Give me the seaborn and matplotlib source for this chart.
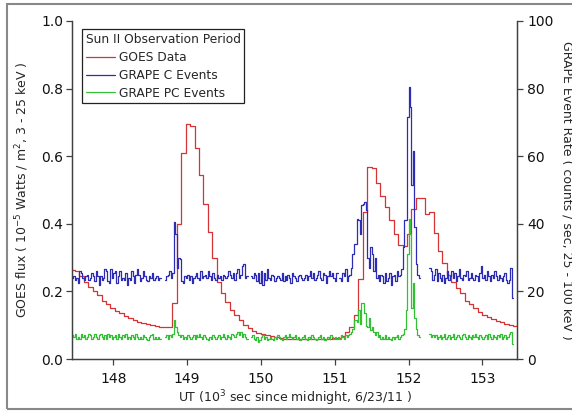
import numpy as np
import pandas as pd
import matplotlib
matplotlib.use("Agg")
import matplotlib.pyplot as plt
import seaborn as sns
from matplotlib.lines import Line2D
from matplotlib.patches import Rectangle

nan = np.nan

# GOES flux, 1 min bins, first bin edge at 147.42 ks (units 1e-5 W/m^2)
goes_t0, goes_dt = 147.42, 0.06
goes_flux = [
    0.262, 0.259, 0.245, 0.228, 0.214, 0.200, 0.188, 0.173, 0.162, 0.151,
    0.143, 0.135, 0.127, 0.120, 0.114, 0.110, 0.106, 0.103, 0.100, 0.098,
    0.096, 0.095, 0.094, 0.165, 0.400, 0.610, 0.695, 0.690, 0.625, 0.545,
    0.460, 0.376, 0.300, 0.228, 0.195, 0.170, 0.145, 0.130, 0.115, 0.100,
    0.092, 0.083, 0.077, 0.073, 0.070, 0.067, 0.065, 0.062, 0.060, 0.060,
    0.059, 0.058, 0.058, 0.058, 0.058, 0.058, 0.059, 0.059, 0.060, 0.061,
    0.063, 0.068, 0.080, 0.095, 0.130, 0.236, 0.435, 0.568, 0.565, 0.520,
    0.483, 0.450, 0.410, 0.370, 0.337, 0.335, 0.370, 0.445, 0.475, 0.475,
    0.430, 0.435, 0.372, 0.320, 0.283, 0.250, 0.228, 0.210, 0.195, 0.172,
    0.163, 0.152, 0.140, 0.130, 0.123, 0.118, 0.113, 0.108, 0.104, 0.101,
    0.099,
]

# GRAPE rates, 20 s bins, first bin edge at 147.44 ks (counts/sec)
grape_t0, grape_dt = 147.44, 0.02
grape_c = [
    24.0, 24.5, 23.5, 24.0, 22.5, 26.0, 25.5, 24.0, 23.5, 24.5, 25.0, 23.5, 24.0, 25.5, 24.5,
    23.0, 26.0, 24.5, 22.0, 24.5, 23.5, 24.0, 26.5, 26.0, 23.0, 22.5, 26.5, 24.0, 25.5, 26.0,
    22.5, 24.5, 26.0, 23.5, 24.0, 23.5, 25.5, 22.0, 24.0, 23.5, 26.0, 24.5, 22.5, 25.0, 26.5,
    25.0, 23.0, 24.0, 26.0, 24.5, 23.5, 23.0, 24.5, 24.0, 25.5, 23.5, 24.0, 24.5, 23.5, 24.0,
    nan, nan, nan, 23.5, 24.5, 25.0, 26.0, 24.0, 25.5, 40.5, 37.0, 27.0, 30.0, 29.5, 23.0,
    22.5, 24.5, 24.0, 25.0, 23.5, 24.5, 22.5, 24.0, 24.5, 25.5, 24.0, 23.5, 26.0, 24.0, 24.5,
    25.0, 24.0, 26.0, 24.5, 23.5, 25.5, 24.0, 23.5, 25.0, 24.0, 24.5, 23.5, 25.0, 24.5, 24.0,
    24.5, 26.0, 25.0, 24.0, 25.5, 23.5, 25.5, 26.5, 24.0, 25.0, 27.5, 28.0, 24.0, 24.5, nan,
    nan, 24.5, 24.0, 25.5, 25.0, 23.0, 25.5, 22.5, 26.0, 22.0, 25.5, 23.5, 26.5, 24.0, 23.5,
    25.0, 24.5, 23.0, 24.0, 24.5, 24.0, 23.5, 25.5, 23.0, 24.5, 23.5, 25.0, 24.0, 22.5, 25.5,
    24.5, 24.0, 23.0, 24.5, 25.0, 24.0, 23.5, 24.0, 25.0, 23.5, 24.5, 26.0, 24.0, 25.5, 23.5,
    24.0, 25.0, 26.0, 24.0, 23.5, 25.5, 25.0, 22.5, 24.5, 26.0, 24.5, 25.5, 24.0, 23.0, 25.5,
    nan, 24.0, 23.0, 25.5, 24.5, 26.5, 23.0, 24.5, 25.0, 27.0, 31.0, 34.0, 34.0, 41.5, 41.0,
    37.0, 45.5, 46.0, 46.5, 44.0, 30.0, 27.0, 33.0, 31.0, 26.0, 30.0, 24.0, 25.0, 23.0, 25.0,
    24.5, 22.5, 25.5, 23.0, 24.0, 25.5, 22.0, 24.5, 25.0, 23.0, 26.0, 24.5, 25.0, 26.5, 33.0,
    41.0, 41.0, 71.5, 80.5, 74.5, 51.5, 61.5, 39.0, 28.0, 25.0, 24.0, nan, nan, nan, nan,
    nan, nan, 27.0, 26.0, 23.5, 25.0, 26.5, 23.0, 25.5, 24.0, 23.0, 25.0, 22.5, 24.0, 26.0,
    23.5, 24.5, 26.0, 24.0, 25.5, 23.0, 24.5, 26.5, 24.0, 23.5, 25.0, 24.5, 26.0, 23.5, 24.0,
    25.5, 24.0, 23.5, 25.0, 24.5, 23.0, 25.5, 27.5, 24.0, 25.0, 23.5, 26.0, 24.5, 23.0, 25.0,
    24.0, 26.0, 24.5, 23.5, 25.0, 24.0, 23.0, 24.5, 25.5, 23.5, 22.5, 23.5, 27.0, 18.0,
]
grape_pc = [
    7.0, 6.5, 7.5, 6.0, 6.5, 6.0, 7.5, 6.5, 7.0, 6.0, 6.5, 7.5, 7.0, 6.0, 6.5,
    7.5, 6.5, 6.0, 7.0, 7.5, 6.5, 6.0, 7.0, 6.0, 7.5, 6.5, 7.0, 6.0, 6.5, 7.0,
    6.0, 7.5, 6.5, 6.0, 7.0, 6.5, 7.5, 6.0, 6.5, 6.0, 7.0, 6.5, 6.0, 7.5, 6.5,
    6.0, 6.5, 6.0, 7.0, 6.5, 6.0, 5.5, 6.5, 7.0, 7.5, 6.0, 6.5, 6.0, 6.5, 6.0,
    nan, nan, nan, 6.5, 7.0, 6.0, 7.0, 6.5, 7.5, 11.5, 9.5, 8.0, 7.0, 6.5, 7.0,
    6.0, 6.5, 6.0, 7.0, 6.5, 6.0, 6.5, 7.0, 6.0, 7.0, 6.5, 7.5, 6.5, 6.0, 7.0,
    6.5, 6.0, 5.5, 6.5, 6.0, 7.0, 6.5, 6.0, 6.5, 7.0, 6.0, 6.5, 7.5, 6.5, 6.0,
    7.0, 6.5, 6.0, 7.5, 7.0, 6.5, 7.5, 8.0, 7.0, 8.0, 6.5, 7.5, 6.5, 6.0, nan,
    nan, 6.5, 7.0, 6.0, 5.5, 6.5, 5.0, 5.5, 6.5, 7.0, 6.0, 6.5, 5.5, 6.0, 6.5,
    6.0, 5.5, 6.5, 6.0, 7.0, 6.5, 6.0, 5.5, 6.5, 7.0, 6.0, 6.5, 7.5, 6.5, 6.0,
    6.5, 7.0, 6.0, 6.5, 5.5, 6.0, 6.5, 7.0, 6.0, 5.5, 6.5, 6.0, 7.0, 6.5, 6.0,
    5.5, 6.0, 6.5, 7.0, 6.0, 6.5, 5.5, 6.0, 6.5, 6.0, 7.0, 6.5, 6.0, 6.5, 6.0,
    6.5, 6.0, 7.0, 6.5, 6.0, 7.0, 6.5, 7.0, 7.5, 8.0, 9.0, 11.5, 11.5, 11.0, 14.5,
    10.5, 16.5, 16.5, 13.5, 9.8, 9.5, 12.0, 8.5, 9.5, 8.0, 7.0, 8.0, 6.5, 7.0, 6.0,
    6.5, 6.0, 7.0, 6.0, 6.5, 6.0, 5.5, 6.5, 6.0, 6.5, 7.0, 6.0, 6.5, 7.0, 7.5,
    9.0, 14.5, 31.0, 41.5, 37.0, 15.0, 22.5, 12.0, 9.0, 7.0, 6.5, nan, nan, nan, nan,
    nan, nan, 7.5, 6.5, 7.0, 6.5, 7.0, 6.0, 6.5, 7.0, 6.0, 6.5, 7.5, 6.0, 6.5,
    7.0, 6.0, 6.5, 7.5, 6.0, 6.5, 7.0, 6.5, 6.0, 7.0, 7.5, 6.5, 6.0, 7.0, 6.5,
    6.0, 7.0, 6.5, 7.5, 6.5, 6.0, 7.0, 6.5, 6.0, 6.5, 7.0, 6.0, 7.5, 6.5, 6.0,
    7.0, 6.5, 6.0, 7.0, 6.5, 7.5, 6.0, 6.5, 7.0, 6.0, 6.5, 7.5, 8.0, 4.5,
]

red, blue, green = "#d63434", "#2c2cb4", "#34c034"


def to_steps(t0, dt, vals):
    # one unit per run of valid bins, last value repeated at closing edge
    vals = np.asarray(vals, float)
    edges = t0 + dt * np.arange(len(vals) + 1)
    rows, seg, i = [], 0, 0
    while i < len(vals):
        if np.isnan(vals[i]):
            i += 1
            continue
        j = i
        while j < len(vals) and not np.isnan(vals[j]):
            rows.append((edges[j], vals[j], seg))
            j += 1
        rows.append((edges[j], vals[j - 1], seg))
        seg += 1
        i = j
    return pd.DataFrame(rows, columns=["t", "v", "seg"])


sns.set_style("ticks")
plt.rcParams["font.family"] = ["DejaVu Sans"]
plt.rcParams["mathtext.default"] = "regular"

fig = plt.figure(figsize=(5.72, 4.11), dpi=100)
ax = fig.add_axes([72 / 572, 52 / 411, 445 / 572, 338 / 411])
ax2 = ax.twinx()

sns.lineplot(data=to_steps(goes_t0, goes_dt, goes_flux), x="t", y="v", units="seg",
             estimator=None, sort=False, drawstyle="steps-post", color=red, lw=0.9, ax=ax)
sns.lineplot(data=to_steps(grape_t0, grape_dt, grape_c), x="t", y="v", units="seg",
             estimator=None, sort=False, drawstyle="steps-post", color=blue, lw=0.9, ax=ax2)
sns.lineplot(data=to_steps(grape_t0, grape_dt, grape_pc), x="t", y="v", units="seg",
             estimator=None, sort=False, drawstyle="steps-post", color=green, lw=0.9, ax=ax2)

ax.set_xlim(147.44, 153.47)
ax.set_ylim(0, 1.0)
ax2.set_ylim(0, 100)
ax.set_xticks([148, 149, 150, 151, 152, 153])
ax.set_yticks(np.arange(0, 1.01, 0.2))
ax.set_yticklabels([f"{v:.1f}" for v in np.arange(0, 1.01, 0.2)])
ax2.set_yticks([0, 20, 40, 60, 80, 100])

for a in (ax, ax2):
    a.spines["top"].set_visible(False)
    for s in a.spines.values():
        s.set_color("#404040")
        s.set_linewidth(0.9)
    a.tick_params(direction="out", length=4.5, width=0.9, color="#404040",
                  labelsize=10, labelcolor="#111111")
ax.tick_params(axis="x", pad=5)
ax.tick_params(axis="y", pad=2)
ax2.tick_params(axis="y", pad=3)

ax.set_xlabel("UT (10$^{3}$ sec since midnight, 6/23/11 )", fontsize=9, va="center")
ax.set_ylabel("GOES flux ( 10$^{-5}$ Watts / m$^{2}$, 3 - 25 keV )", fontsize=9,
              va="center")
ax2.set_ylabel("GRAPE Event Rate ( counts / sec, 25 - 100 keV )", fontsize=9,
               rotation=270, va="center")
ax.xaxis.set_label_coords(0.5, -0.115)
ax.yaxis.set_label_coords(-0.112, 0.5)
ax2.yaxis.set_label_coords(1.112, 0.5)

handles = [Line2D([], [], color=c, lw=0.9) for c in (red, blue, green)]
leg = ax2.legend(handles, ["GOES Data", "GRAPE C Events", "GRAPE PC Events"],
                 title="Sun II Observation Period", loc="upper left",
                 bbox_to_anchor=(82 / 572, 382 / 411), bbox_transform=fig.transFigure,
                 borderaxespad=0, fontsize=8.8, title_fontsize=8.8, alignment="left",
                 frameon=True, fancybox=False, framealpha=1, edgecolor="#222222",
                 handlelength=2.4, handletextpad=0.3, labelspacing=0.38,
                 borderpad=0.3)
leg.get_frame().set_linewidth(0.9)
leg._legend_box.sep = 4

# grey frame round the figure, open to the right like the reference
fig.patches.append(Rectangle((7 / 572, 2 / 411), 600 / 572, 405 / 411, fill=False,
                             edgecolor="#888888", lw=1.5, transform=fig.transFigure))

fig.savefig("out.png", dpi=100)
